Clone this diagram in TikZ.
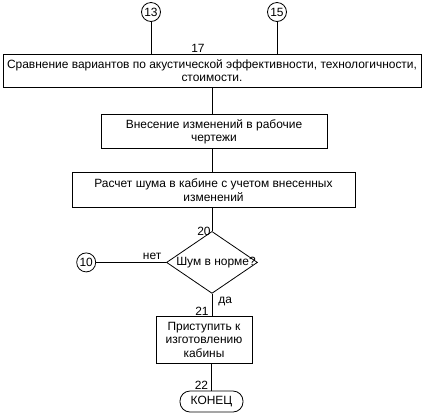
\documentclass[tikz,border=0pt]{standalone}
\usepackage{fontspec}
\setmainfont{Liberation Sans}
\usetikzlibrary{shapes.geometric,positioning,calc}

\begin{document}
\begin{tikzpicture}[
      x=1bp, y=1bp,
      line width=0.8bp,
      node distance=25bp,
      txt/.style={font=\fontsize{12}{13.5}\selectfont},
      box/.style={draw, rectangle, txt, align=center, inner sep=1bp},
      conn/.style={draw, circle, minimum size=19bp, inner sep=0pt, txt},
      decision/.style={draw, diamond, minimum width=91bp, minimum height=62bp, inner sep=0pt, txt},
      term/.style={draw, rectangle, rounded corners=10bp, minimum width=63bp, minimum height=21bp, inner sep=0pt, txt},
      num/.style={txt, inner sep=0pt},
      line/.style={draw}
    ]
      \useasboundingbox (0,0) rectangle (426,-419);

      % connectors from earlier sheets
      \node[conn] (c13) at (151,-12) {13};
      \node[conn] (c15) at (277,-12) {15};

      % main chain
      \node[box, minimum width=418bp, minimum height=33bp] (cmp) at (212,-70.5)
        {Сравнение вариантов по акустической эффективности, технологичности,\\стоимости.};
      \node[box, minimum width=226bp, minimum height=34bp, below=27bp of cmp, xshift=2bp] (edit)
        {Внесение изменений в рабочие\\чертежи};
      \node[box, minimum width=283bp, minimum height=35bp, below=23bp of edit, xshift=-0.5bp] (calc)
        {Расчет шума в кабине с учетом внесенных\\изменений};
      \node[decision, below=23bp of calc, xshift=-1.5bp] (check)
        {\makebox[0pt]{\hspace{8bp}Шум в норме?}};
      \node[box, minimum width=96bp, minimum height=47bp, below=22bp of check, xshift=-8bp] (make)
        {Приступить к\\изготовлению\\кабины};
      \node[term, below=27bp of make, xshift=7.5bp] (stop) {КОНЕЦ};
      \node[conn, left=70bp of check] (c10) {10};

      % numbers and branch labels
      \node[num, anchor=south] (n17) at (198,-53) {17};
      \node[num, anchor=east] (n20) at ($(check.north)+(-1,0)$) {20};
      \node[num, anchor=south east] (n21) at ($(check.south |- make.north)+(-3,0)$) {21};
      \node[num, anchor=north west] (yes) at ($(check.south)+(6,-3)$) {да};
      \node[num, anchor=south] (no) at ($(c10.east)!0.8!(check.west)+(0,2)$) {нет};
      \node[num, anchor=south east] (n22) at ($(stop.north)+(-3,1)$) {22};

      % lines
      \draw[line] (c13) -- (c13 |- cmp.north);
      \draw[line] (c15) -- (c15 |- cmp.north);
      \draw[line] (cmp.south) -- (cmp.south |- edit.north);
      \draw[line] (cmp.south |- edit.south) -- (cmp.south |- calc.north);
      \draw[line] (check.north |- calc.south) -- (check.north);
      \draw[line] (check.south) -- (check.south |- make.north);
      \draw[line] (stop.north |- make.south) -- (stop.north);
      \draw[line] (check.west) -- (c10.east);
    \end{tikzpicture}
\end{document}
